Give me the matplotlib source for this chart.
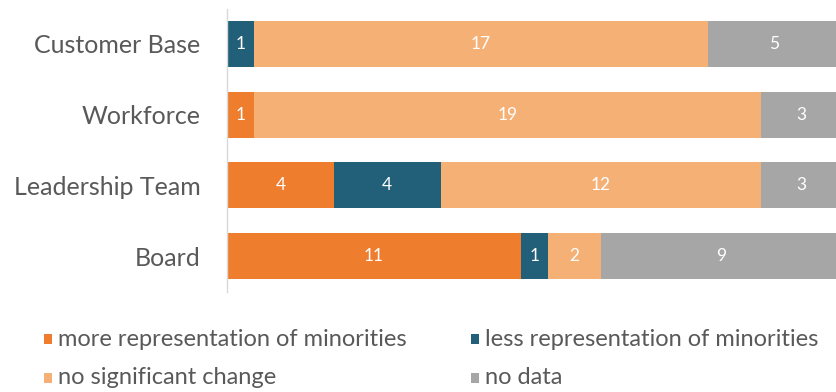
import matplotlib
matplotlib.use("Agg")
import matplotlib.pyplot as plt
from matplotlib.patches import Rectangle

plt.rcParams['font.family'] = ['Lato', 'DejaVu Sans']

categories = ["Customer Base", "Workforce", "Leadership Team", "Board"]
series_names = [
    "more representation of minorities",
    "less representation of minorities",
    "no significant change",
    "no data",
]
more_rep = [0, 1, 4, 11]
less_rep = [1, 0, 4, 1]
no_change = [17, 19, 12, 2]
no_data = [5, 3, 3, 9]
colors = ["#EE7D2E", "#22607A", "#F5B075", "#A6A6A6"]

series = [more_rep, less_rep, no_change, no_data]

W, H = 836, 392
fig = plt.figure(figsize=(W / 100, H / 100), dpi=100)
ax = fig.add_axes([227 / W, (H - 291.5) / H, (W - 227) / W, 283 / H])

ypos = list(range(len(categories)))
left = [0] * len(categories)
for vals, col in zip(series, colors):
    ax.barh(ypos, vals, left=left, height=0.65, color=col, edgecolor="none")
    for y, v, l in zip(ypos, vals, left):
        if v > 0:
            ax.text(l + v / 2, y, str(v), ha="center", va="center",
                    color="white", fontsize=12.5)
    left = [a + b for a, b in zip(left, vals)]

ax.set_xlim(0, 22.8)
ax.set_ylim(len(categories) - 0.5, -0.5)
ax.set_yticks(ypos)
ax.set_yticklabels(categories, fontsize=18, color="#595959")
ax.tick_params(axis="y", length=0, pad=19)
ax.set_xticks([])
for side in ["top", "right", "bottom"]:
    ax.spines[side].set_visible(False)
ax.spines["left"].set_color("#D9D9D9")
ax.spines["left"].set_linewidth(1.0)

# legend, laid out in two rows of two entries
legend_cols_px = [44, 471]
legend_rows_px = [339, 378]
for i, (name, col) in enumerate(zip(series_names, colors)):
    x0 = legend_cols_px[i % 2]
    yc = legend_rows_px[i // 2]
    fig.patches.append(Rectangle((x0 / W, (H - yc - 5) / H), 8 / W, 10 / H,
                                 transform=fig.transFigure, facecolor=col,
                                 edgecolor="none"))
    fig.text((x0 + 14) / W, (H - yc) / H, name, ha="left", va="center",
             fontsize=17, color="#595959")

fig.savefig("out.png", dpi=100)
